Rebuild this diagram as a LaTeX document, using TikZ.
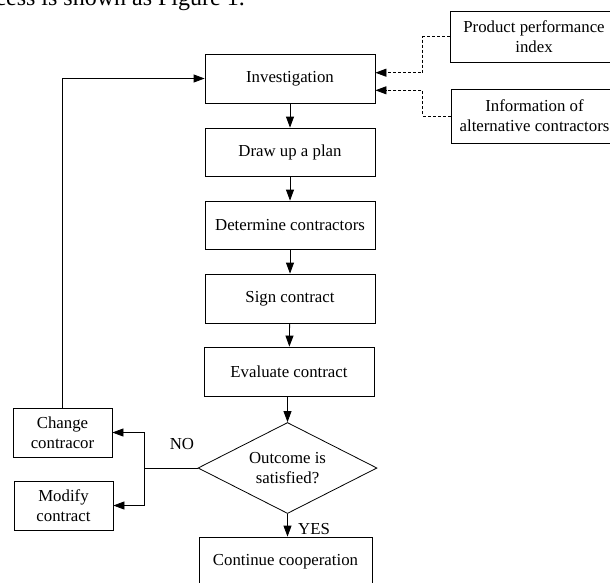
\documentclass[tikz,border=0pt]{standalone}
\usepackage{fontspec}
\setmainfont{Liberation Serif}
\usetikzlibrary{shapes.geometric,arrows.meta}
\begin{document}
\begin{tikzpicture}[x=1pt,y=-1pt,
  every node/.style={font=\fontsize{16.8}{20}\selectfont},
  box/.style={draw,line width=0.8pt,rectangle,inner sep=0pt,align=center},
  dec/.style={draw,line width=0.8pt,diamond,inner sep=0pt,minimum width=179pt,minimum height=91pt},
  link/.style={line width=0.8pt,-{Triangle[length=11pt,width=8pt]}},
  dlink/.style={link,dash pattern=on 3pt off 2pt},
  plain/.style={line width=0.8pt}]
\useasboundingbox (0,0) rectangle (610,582);
% clipped caption text at the top
\node[anchor=base east,inner sep=0pt,font=\fontsize{24}{28}\selectfont] (cap) at (245,5) {cess is shown as Figure 1.};
% main chain
\node[box,minimum width=170pt,minimum height=49pt] (inv) at (290,78.5) {Investigation};
\node[box,minimum width=170pt,minimum height=48pt] (plan) at (290,152) {Draw up a plan};
\node[box,minimum width=170pt,minimum height=48pt] (det) at (290,225) {Determine contractors};
\node[box,minimum width=170pt,minimum height=49pt] (sign) at (290,298.5) {Sign contract};
\node[box,minimum width=170pt,minimum height=49pt] (eval) at (289,371.5) {Evaluate contract};
\node[dec] (dia) at (287.5,468) {};
\node[align=center,inner sep=0pt] (diatext) at (287.5,468) {Outcome is\\satisfied?};
\node[box,minimum width=173pt,minimum height=49pt] (cont) at (285.5,561.5) {Continue cooperation};
% left boxes
\node[box,minimum width=99pt,minimum height=49pt] (chg) at (62.5,432.5) {Change\\contracor};
\node[box,minimum width=99pt,minimum height=49pt] (mod) at (63.5,505.5) {Modify\\contract};
% right inputs
\node[box,minimum width=168pt,minimum height=51pt] (prod) at (534,36.5) {Product performance\\index};
\node[box,minimum width=167pt,minimum height=54pt] (info) at (534.5,116) {Information of\\alternative contractors};
% labels
\node[inner sep=0pt] (no) at (182,444) {NO};
\node[inner sep=0pt] (yes) at (314,529) {YES};
% connectors
\draw[link] (inv) -- (plan);
\draw[link] (plan) -- (det);
\draw[link] (det) -- (sign);
\draw[link] (sign) -- (eval);
\draw[link] (eval.south -| dia.north) -- (dia.north);
\draw[link] (dia.south) -- (dia.south |- cont.north);
\coordinate (br) at (144,468);
\draw[plain] (dia.west) -- (br);
\draw[link] (br) |- (chg.east);
\draw[link] (br) |- (mod.east);
\draw[link] (chg.north) |- (inv.west);
\draw[dlink] (prod.west) -- ++(-27,0) |- ([yshift=5.8pt]inv.east);
\draw[dlink] (info.west) -- ++(-28,0) |- ([yshift=-11.8pt]inv.east);
\end{tikzpicture}
\end{document}
